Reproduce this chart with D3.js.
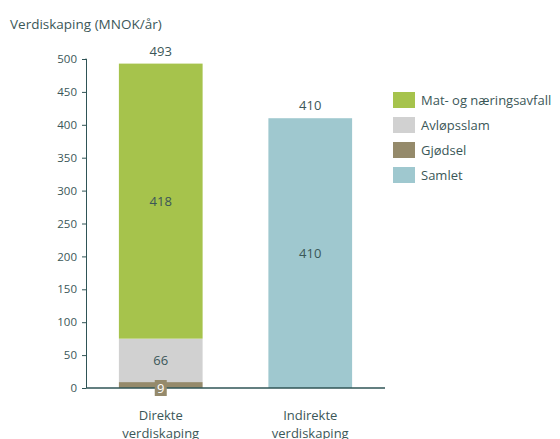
<!DOCTYPE html>
<html>
<head>
<meta charset="utf-8">
<script src="https://cdn.jsdelivr.net/npm/d3@7"></script>
<style>
  body { margin: 0; background: #fff; }
  text { font-family: "Open Sans", sans-serif; }
</style>
</head>
<body>
<div id="chart"></div>
<script>
// data
const categories = ["Direkte verdiskaping", "Indirekte verdiskaping"];
const seriesNames = ["Gjødsel", "Avløpsslam", "Mat- og næringsavfall", "Samlet"];
const gjodsel = [9, 0];
const avlopsslam = [66, 0];
const matavfall = [418, 0];
const samlet = [0, 410];
const totals = [493, 410];
const yTicks = [0, 50, 100, 150, 200, 250, 300, 350, 400, 450, 500];
const legendOrder = ["Mat- og næringsavfall", "Avløpsslam", "Gjødsel", "Samlet"];

const colors = {
  "Gjødsel": "#958a6b",
  "Avløpsslam": "#d1d1d1",
  "Mat- og næringsavfall": "#a6c34c",
  "Samlet": "#9fc8cf"
};
const textColor = "#3b5758";
const axisColor = "#2f5456";

const W = 560, H = 439;
const svg = d3.select("#chart").append("svg")
  .attr("width", W).attr("height", H);

const x = d3.scaleBand().domain(categories).range([86, 385]).paddingInner(0.44).paddingOuter(0.22);
const y = d3.scaleLinear().domain([0, 500]).range([388, 59]);

// table for stacking
const rows = categories.map((c, i) => ({
  cat: c,
  "Gjødsel": gjodsel[i],
  "Avløpsslam": avlopsslam[i],
  "Mat- og næringsavfall": matavfall[i],
  "Samlet": samlet[i]
}));
const stacked = d3.stack().keys(seriesNames)(rows);

// bars
svg.append("g").selectAll("g")
  .data(stacked)
  .join("g")
  .attr("fill", d => colors[d.key])
  .selectAll("rect")
  .data(d => d.filter(p => p[1] - p[0] > 0))
  .join("rect")
  .attr("x", d => x(d.data.cat))
  .attr("width", x.bandwidth())
  .attr("y", d => y(d[1]))
  .attr("height", d => y(d[0]) - y(d[1]));

// y axis
const yAxis = svg.append("g")
  .attr("transform", "translate(86,0)")
  .call(d3.axisLeft(y).tickValues(yTicks).tickSize(4).tickPadding(5));
yAxis.select(".domain").attr("stroke", axisColor).attr("d", `M-0.5,${y(500)}H0.5V${y(0)}`);
yAxis.selectAll(".tick line").attr("stroke", axisColor);
yAxis.selectAll(".tick text").attr("fill", textColor).style("font-size", "11.5px");

// x axis line
svg.append("line")
  .attr("x1", 86).attr("x2", 385)
  .attr("y1", y(0)).attr("y2", y(0))
  .attr("stroke", axisColor).attr("stroke-width", 1.5);

// category labels (two lines)
categories.forEach(c => {
  const t = svg.append("text")
    .attr("x", x(c) + x.bandwidth() / 2)
    .attr("y", 420)
    .attr("text-anchor", "middle")
    .attr("fill", textColor)
    .style("font-size", "13px");
  c.split(" ").forEach((w, i) => {
    t.append("tspan").attr("x", x(c) + x.bandwidth() / 2).attr("dy", i ? 18 : 0).text(w);
  });
});

// total labels
svg.append("g").selectAll("text")
  .data(categories)
  .join("text")
  .attr("x", d => x(d) + x.bandwidth() / 2)
  .attr("y", (d, i) => y(totals[i]) - 8)
  .attr("text-anchor", "middle")
  .attr("fill", textColor)
  .style("font-size", "13px")
  .text((d, i) => totals[i]);

// inside labels
stacked.forEach(s => {
  s.forEach(p => {
    const v = p[1] - p[0];
    if (v <= 0) return;
    const cx = x(p.data.cat) + x.bandwidth() / 2;
    const cy = (y(p[0]) + y(p[1])) / 2;
    if (s.key === "Gjødsel") {
      svg.append("rect")
        .attr("x", cx - 6).attr("y", y(0) - 8)
        .attr("width", 12).attr("height", 16)
        .attr("fill", colors[s.key]);
      svg.append("text")
        .attr("x", cx).attr("y", y(0) + 4.5)
        .attr("text-anchor", "middle")
        .attr("fill", "#fff")
        .style("font-size", "13px")
        .text(v);
    } else {
      svg.append("text")
        .attr("x", cx).attr("y", cy + 5)
        .attr("text-anchor", "middle")
        .attr("fill", textColor)
        .style("font-size", "13px")
        .text(v);
    }
  });
});

// title
svg.append("text")
  .attr("x", 10).attr("y", 29)
  .attr("fill", textColor)
  .style("font-size", "13.5px")
  .text("Verdiskaping (MNOK/år)");

// legend
const legend = svg.append("g").selectAll("g")
  .data(legendOrder)
  .join("g")
  .attr("transform", (d, i) => `translate(393,${92 + i * 25})`);
legend.append("rect")
  .attr("width", 22).attr("height", 16)
  .attr("fill", d => colors[d]);
legend.append("text")
  .attr("x", 28).attr("y", 13)
  .attr("fill", textColor)
  .style("font-size", "13px")
  .text(d => d);
</script>
</body>
</html>
